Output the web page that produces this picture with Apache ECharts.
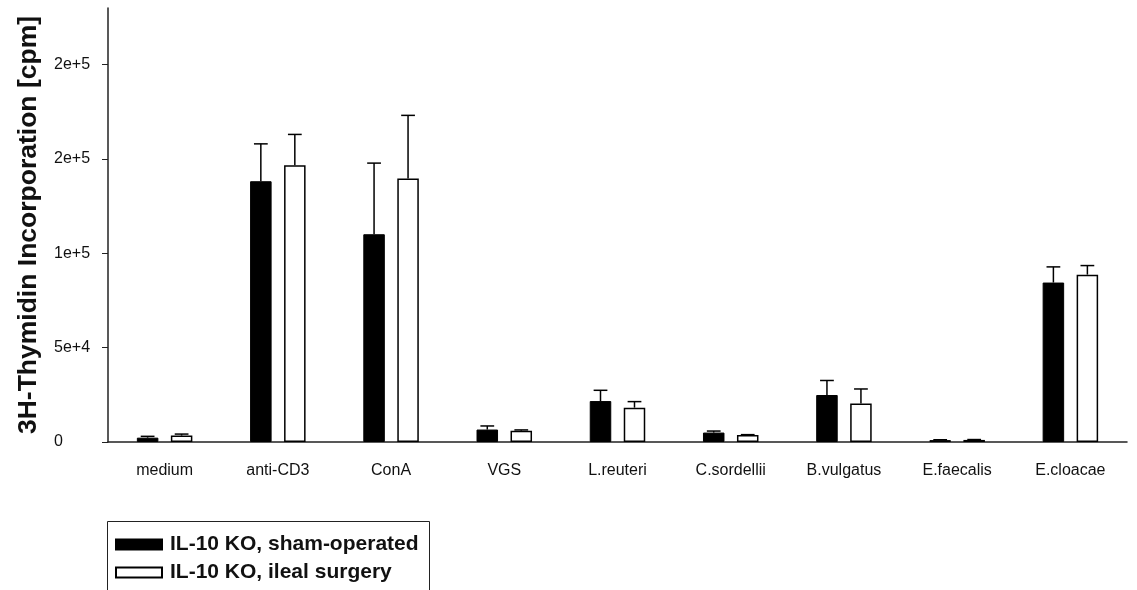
<!DOCTYPE html>
<html>
<head>
<meta charset="utf-8">
<script src="https://cdn.jsdelivr.net/npm/echarts@6/dist/echarts.min.js"></script>
<style>
html,body{margin:0;padding:0;background:#fff;}
#chart{width:1137px;height:590px;}
</style>
</head>
<body>
<div id="chart"></div>
<script>
const categories = ['medium','anti-CD3','ConA','VGS','L.reuteri','C.sordellii','B.vulgatus','E.faecalis','E.cloacae'];
const shamMean  = [2300, 138200, 110100, 6600, 21700, 5000, 24900, 1000, 84500];
const shamUpper = [3000, 158000, 147800, 8500, 27400, 5800, 32600, 1200, 92800];
const surgMean  = [3400, 146700, 139700, 6000, 18200, 3700, 20400, 1100, 88700];
const surgUpper = [4200, 163000, 173100, 6400, 21400, 3900, 28100, 1300, 93500];
const yTickValues = [0, 50000, 100000, 150000, 200000];
const yTickLabels = ['0', '5e+4', '1e+5', '2e+5', '2e+5'];
const seriesNames = ['IL-10 KO, sham-operated', 'IL-10 KO, ileal surgery'];

const FONT = 'Liberation Sans, Arial, sans-serif';
const BAR_FRAC = 0.19, GAP_FRAC = 0.58;

function errRender(sign) {
  return function (params, api) {
    const i = api.value(0), m = api.value(1), u = api.value(2);
    const c = api.coord([i, m]);
    const cu = api.coord([i, u]);
    const catW = api.size([1, 0])[0];
    const bw = catW * BAR_FRAC;
    const x = c[0] + sign * bw * (1 + GAP_FRAC) / 2;
    const half = bw * 0.32;
    const st = { stroke: '#000', lineWidth: 1.5 };
    return { type: 'group', children: [
      { type: 'line', shape: { x1: x, y1: c[1], x2: x, y2: cu[1] }, style: st },
      { type: 'line', shape: { x1: x - half, y1: cu[1], x2: x + half, y2: cu[1] }, style: st }
    ]};
  };
}

const chart = echarts.init(document.getElementById('chart'), null, { renderer: 'canvas' });
chart.setOption({
  backgroundColor: '#fff',
  animation: false,
  graphic: [{
    type: 'rect', left: 105, top: 519, z: 0,
    shape: { width: 322, height: 100 },
    style: { fill: 'none', stroke: '#222', lineWidth: 1 }
  }],
  grid: { left: 108, right: 10, top: 8, bottom: 148 },
  legend: {
    data: seriesNames,
    orient: 'vertical',
    left: 115, top: 534,
    padding: 0,
    icon: 'rect',
    itemWidth: 46, itemHeight: 10, itemGap: 7,
    textStyle: { fontFamily: FONT, fontWeight: 'bold', fontSize: 21, color: '#111', padding: [0, 0, 0, 3] }
  },
  xAxis: {
    type: 'category',
    data: categories,
    axisLine: { lineStyle: { color: '#222', width: 1.5 } },
    axisTick: { alignWithLabel: true, length: 5, lineStyle: { color: '#222' } },
    axisLabel: { fontFamily: FONT, fontSize: 16, color: '#111', margin: 21 }
  },
  yAxis: {
    type: 'value',
    min: 0, max: 230000,
    name: '3H-Thymidin Incorporation [cpm]',
    nameLocation: 'middle',
    nameGap: 66,
    nameTextStyle: { fontFamily: FONT, fontWeight: 'bold', fontSize: 26.5, color: '#111' },
    splitLine: { show: false },
    axisLine: { show: true, lineStyle: { color: '#222', width: 1.5 } },
    axisTick: { show: true, length: 6, customValues: yTickValues, lineStyle: { color: '#222' } },
    axisLabel: {
      customValues: yTickValues,
      align: 'left', margin: 54,
      fontFamily: FONT, fontSize: 16, color: '#111',
      formatter: function (v) { const k = yTickValues.indexOf(v); return k >= 0 ? yTickLabels[k] : ''; }
    }
  },
  series: [
    { name: seriesNames[0], type: 'bar', data: shamMean, barWidth: (BAR_FRAC * 100) + '%', barGap: (GAP_FRAC * 100) + '%',
      itemStyle: { color: '#000', borderColor: '#000', borderWidth: 1 } },
    { name: seriesNames[1], type: 'bar', data: surgMean, barWidth: (BAR_FRAC * 100) + '%', barGap: (GAP_FRAC * 100) + '%',
      itemStyle: { color: '#fff', borderColor: '#000', borderWidth: 1.5 } },
    { type: 'custom', name: 'err-sham', renderItem: errRender(-1), encode: { x: 0, y: [1, 2] }, z: 3,
      data: categories.map((c, i) => [i, shamMean[i], shamUpper[i]]) },
    { type: 'custom', name: 'err-surg', renderItem: errRender(1), encode: { x: 0, y: [1, 2] }, z: 3,
      data: categories.map((c, i) => [i, surgMean[i], surgUpper[i]]) }
  ]
});
</script>
</body>
</html>
